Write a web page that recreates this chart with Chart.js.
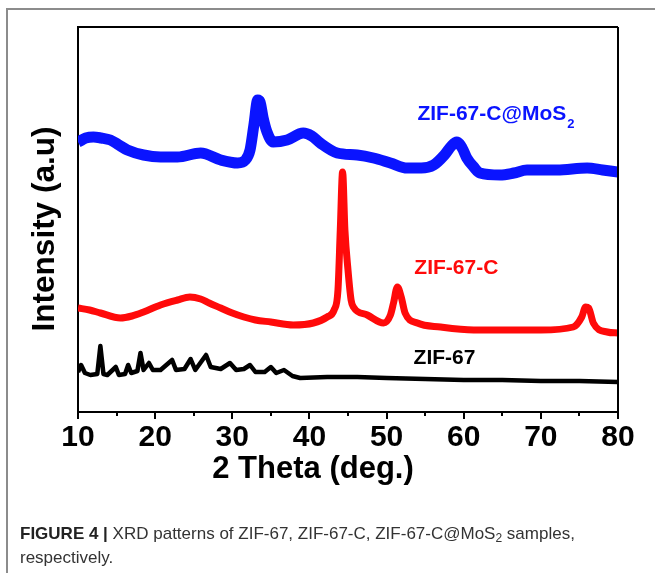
<!DOCTYPE html>
<html>
<head>
<meta charset="utf-8">
<script src="https://cdn.jsdelivr.net/npm/chart.js@4.4.1/dist/chart.umd.min.js"></script>
<style>
  html, body { margin: 0; padding: 0; background: #fff; }
  #wrap { position: relative; width: 655px; height: 573px; overflow: hidden; background: #fff; }
  #frame { position: absolute; left: 6px; top: 8px; width: 700px; height: 600px;
           border-left: 2px solid #8c8c8c; border-top: 2px solid #8c8c8c; }
  #cv { position: absolute; left: 0; top: 0; }
  #caption { position: absolute; left: 20px; top: 522px; width: 625px;
             font-family: "Liberation Sans", Arial, sans-serif;
             font-size: 17px; line-height: 24px; color: #333; }
  #caption b { color: #222; }
  #caption sub { font-size: 12px; vertical-align: -3px; line-height: 0; }
</style>
</head>
<body>
<div id="wrap">
  <div id="frame"></div>
  <canvas id="cv" width="655" height="573"></canvas>
  <div id="caption"><b>FIGURE 4 |</b> XRD patterns of ZIF-67, ZIF-67-C, ZIF-67-C@MoS<sub>2</sub> samples, respectively.</div>
</div>
<script>
// ---- data (2θ in degrees, intensity in arbitrary units, stacked offsets included) ----
const mosTheta = [10.0,10.5,11,12,13,14.2,15.3,16.4,18.5,20.7,22.9,25.9,28.5,30.7,31.7,32.3,32.8,33.3,33.6,34.0,34.5,35.3,37.1,39.2,40.3,41.4,43.6,46.2,48.3,50.5,52.7,54.5,56.1,57.5,58.4,59.1,59.8,60.4,61.3,62.1,64.7,66.5,68.2,72.1,76,78,80];
const mosInt   = [270,272,274,275,274,272,267,262,257,255,255,259,252,249,252,262,287,312,310,294,280,270,272,279,276,269,259,257,254,249,244,244,247,257,266,270,264,254,245,239,237,239,242,242,244,242,240];

const cTheta = [10,11.5,12.9,15.5,17,18.5,20.7,22.9,24.5,25.9,27,28.5,30,31.5,33,35,37.9,40.5,42.3,43.2,43.7,44.0,44.3,44.6,45.0,45.4,45.7,47.5,49.6,50.5,50.9,51.4,51.9,52.4,54,57,61.3,65.6,70,74.2,75.3,75.8,76.2,76.8,78.6,80];
const cInt   = [104,102,99,94,96,100,107,112,115,113,109,104,99,95,92,90,87,89,95,102,122,182,240,182,142,112,105,97,89,97,109,125,115,99,89,85,82,82,82,85,95,105,104,89,80,79];

const zTheta = [10,10.4,10.9,11.6,12.5,12.9,13.3,13.8,14.9,15.3,16.1,16.5,16.9,17.7,18.1,18.5,19.2,19.7,20.7,22.2,22.7,23.8,24.6,25.2,26.6,27.2,28.5,29.7,30.5,31.5,32.3,33,34.2,35,35.7,36.7,37.8,38.8,42.3,46.2,50,55,60,65,70,75,80];
const zInt   = [40,47,39,37,38,66,38,37,45,37,38,47,39,41,59,42,49,42,42,52,42,43,53,42,57,45,43,49,42,43,47,40,40,45,39,42,36,34,35,35,34,33,32,32,31,31,30];

const xTicks = [10,20,30,40,50,60,70,80];
const xMinorTicks = [15,25,35,45,55,65,75];
const seriesNames = ["ZIF-67-C@MoS2","ZIF-67-C","ZIF-67"];
const seriesColors = ["#0a14ff","#ff0a0a","#000000"];
// label anchors (2θ, intensity)
const labelTheta = [54.0, 53.6, 53.5];
const labelInt   = [298, 144, 54];
const xTitle = '2 Theta (deg.)';
const yTitle = 'Intensity (a.u)';

function pts(t, v){ return t.map((x,i)=>({x:x, y:v[i]})); }

const FONT = '"Liberation Sans", Arial, Helvetica, sans-serif';

const framePlugin = {
  id: 'framePlugin',
  afterDraw(chart){
    const {ctx, chartArea:a, scales:{x, y}} = chart;
    ctx.save();
    ctx.strokeStyle = '#000';
    ctx.lineWidth = 2;
    ctx.beginPath();
    ctx.moveTo(a.left, a.top); ctx.lineTo(a.right, a.top);
    ctx.moveTo(a.right, a.top); ctx.lineTo(a.right, a.bottom);
    ctx.stroke();
    // minor ticks
    ctx.beginPath();
    xMinorTicks.forEach(v=>{
      const px = Math.round(x.getPixelForValue(v));
      ctx.moveTo(px, a.bottom); ctx.lineTo(px, a.bottom + 4);
    });
    ctx.stroke();
    // axis titles (placed as in the reference, slightly off-centre)
    ctx.fillStyle = '#000';
    ctx.textAlign = 'center';
    ctx.textBaseline = 'middle';
    ctx.font = 'bold 31px ' + FONT;
    ctx.fillText(xTitle, 313, 469);
    ctx.save();
    ctx.translate(45, 229);
    ctx.rotate(-Math.PI/2);
    ctx.font = 'bold 31.5px ' + FONT;
    ctx.fillText(yTitle, 0, 0);
    ctx.restore();
    // series labels
    ctx.font = 'bold 21px ' + FONT;
    ctx.textBaseline = 'middle';
    ctx.textAlign = 'left';
    const names = ["ZIF-67-C@MoS", "ZIF-67-C", "ZIF-67"];
    names.forEach((n,i)=>{
      const px = x.getPixelForValue(labelTheta[i]);
      const py = y.getPixelForValue(labelInt[i]);
      ctx.fillStyle = seriesColors[i];
      ctx.fillText(n, px, py);
      if (i === 0) {
        const w = ctx.measureText(n).width;
        ctx.font = 'bold 13px ' + FONT;
        ctx.fillText('2', px + w + 1, py + 10);
        ctx.font = 'bold 21px ' + FONT;
      }
    });
    ctx.restore();
  }
};

new Chart(document.getElementById('cv'), {
  type: 'line',
  data: {
    datasets: [
      { label: seriesNames[0], data: pts(mosTheta, mosInt), borderColor: seriesColors[0], borderWidth: 11, pointRadius: 0, cubicInterpolationMode: 'monotone', borderJoinStyle: 'round' },
      { label: seriesNames[1], data: pts(cTheta, cInt), borderColor: seriesColors[1], borderWidth: 7, pointRadius: 0, cubicInterpolationMode: 'monotone', borderJoinStyle: 'round' },
      { label: seriesNames[2], data: pts(zTheta, zInt), borderColor: seriesColors[2], borderWidth: 4.5, pointRadius: 0, tension: 0, borderJoinStyle: 'round' }
    ]
  },
  options: {
    responsive: false,
    animation: false,
    events: [],
    layout: { padding: { left: 0, top: 27, right: 37, bottom: 80 } },
    plugins: { legend: { display: false }, tooltip: { enabled: false } },
    scales: {
      x: {
        type: 'linear', min: 10, max: 80,
        afterBuildTicks(s){ s.ticks = xTicks.map(v=>({value:v})); },
        afterFit(s){ s.height = 81; },
        grid: { drawOnChartArea: false, drawTicks: true, tickLength: 7, color: '#000', lineWidth: 2 },
        border: { display: true, color: '#000', width: 2 },
        ticks: { color: '#000', font: { family: FONT, weight: 'bold', size: 30 }, padding: 1, maxRotation: 0, autoSkip: false },
        title: { display: false }
      },
      y: {
        min: 0, max: 385,
        afterFit(s){ s.width = 78; },
        grid: { display: false },
        border: { display: true, color: '#000', width: 2 },
        ticks: { display: false },
        title: { display: false }
      }
    }
  },
  plugins: [framePlugin]
});
</script>
</body>
</html>
